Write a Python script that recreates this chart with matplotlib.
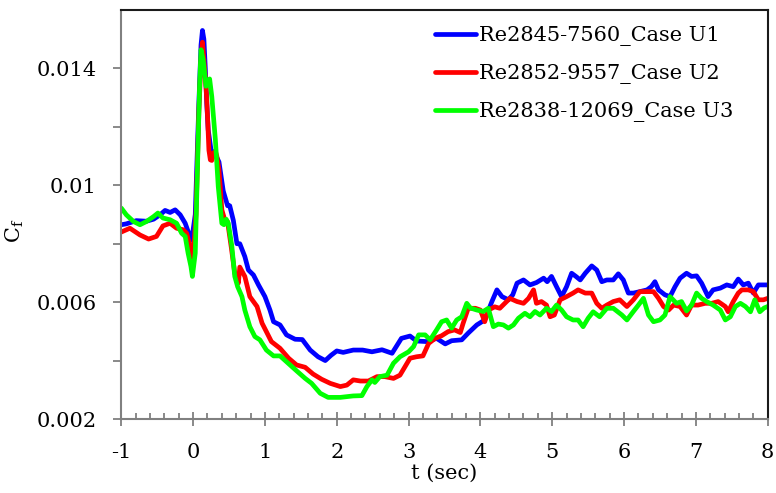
import matplotlib
matplotlib.use("Agg")
import matplotlib.pyplot as plt
from matplotlib.ticker import FixedLocator, MultipleLocator, FuncFormatter

plt.rcParams['font.family'] = ['DejaVu Serif']
plt.rcParams['mathtext.fontset'] = 'dejavuserif'

# Skin-friction coefficient histories (t in seconds)
t_u1 = [-1.0, -0.93, -0.79, -0.65, -0.55, -0.46, -0.39, -0.32, -0.25, -0.18, -0.11, -0.07,
        -0.02, 0.03, 0.08, 0.11, 0.13, 0.15, 0.17, 0.19, 0.21, 0.25, 0.30, 0.36, 0.42, 0.48,
        0.51, 0.56, 0.61, 0.65, 0.72, 0.77, 0.84, 0.91, 1.00, 1.07, 1.12, 1.21, 1.30, 1.42,
        1.52, 1.63, 1.74, 1.84, 1.92, 2.00, 2.09, 2.23, 2.36, 2.49, 2.63, 2.77, 2.90, 3.02,
        3.11, 3.25, 3.39, 3.51, 3.60, 3.74, 3.83, 3.95, 4.06, 4.16, 4.23, 4.30, 4.39, 4.45,
        4.51, 4.60, 4.69, 4.78, 4.88, 4.93, 4.99, 5.06, 5.13, 5.20, 5.27, 5.33, 5.39, 5.46,
        5.55, 5.62, 5.69, 5.76, 5.85, 5.92, 5.99, 6.06, 6.13, 6.22, 6.32, 6.38, 6.43, 6.48,
        6.57, 6.64, 6.71, 6.78, 6.87, 6.94, 7.01, 7.08, 7.17, 7.24, 7.34, 7.43, 7.52, 7.59,
        7.66, 7.73, 7.80, 7.87, 7.93, 8.0]
cf_u1 = [0.00865, 0.00868, 0.00879, 0.00877, 0.00884, 0.00899, 0.00914, 0.00907, 0.00916,
         0.00899, 0.00870, 0.00842, 0.00812, 0.00900, 0.01280, 0.01480, 0.01530, 0.01500,
         0.01400, 0.01280, 0.01190, 0.01120, 0.01110, 0.01080, 0.00980, 0.00930, 0.00930,
         0.00880, 0.00800, 0.00800, 0.00756, 0.00710, 0.00693, 0.00659, 0.00619, 0.00573,
         0.00533, 0.00522, 0.00488, 0.00473, 0.00472, 0.00436, 0.00413, 0.00400, 0.00418,
         0.00433, 0.00428, 0.00436, 0.00436, 0.00430, 0.00437, 0.00425, 0.00476, 0.00484,
         0.00467, 0.00465, 0.00476, 0.00457, 0.00468, 0.00471, 0.00494, 0.00522, 0.00539,
         0.00602, 0.00642, 0.00619, 0.00608, 0.00625, 0.00665, 0.00676, 0.00659, 0.00667,
         0.00682, 0.00670, 0.00688, 0.00653, 0.00619, 0.00653, 0.00699, 0.00688, 0.00676,
         0.00699, 0.00724, 0.00710, 0.00670, 0.00676, 0.00676, 0.00697, 0.00676, 0.00631,
         0.00631, 0.00636, 0.00642, 0.00653, 0.00670, 0.00642, 0.00625, 0.00619, 0.00653,
         0.00682, 0.00699, 0.00688, 0.00690, 0.00665, 0.00619, 0.00642, 0.00648, 0.00659,
         0.00653, 0.00679, 0.00659, 0.00665, 0.00631, 0.00659, 0.00659, 0.00659]

t_u2 = [-1.0, -0.88, -0.74, -0.62, -0.51, -0.42, -0.32, -0.23, -0.14, -0.09, -0.04, 0.00,
        0.04, 0.08, 0.11, 0.13, 0.16, 0.18, 0.20, 0.22, 0.24, 0.26, 0.28, 0.31, 0.33, 0.36,
        0.40, 0.44, 0.48, 0.53, 0.58, 0.63, 0.65, 0.72, 0.79, 0.89, 0.96, 1.02, 1.09, 1.21,
        1.33, 1.44, 1.56, 1.67, 1.79, 1.91, 2.05, 2.14, 2.23, 2.33, 2.44, 2.56, 2.67, 2.79,
        2.88, 2.95, 3.02, 3.11, 3.20, 3.28, 3.37, 3.46, 3.55, 3.64, 3.72, 3.76, 3.83, 3.93,
        4.00, 4.06, 4.11, 4.20, 4.27, 4.34, 4.41, 4.51, 4.60, 4.67, 4.74, 4.78, 4.85, 4.92,
        4.97, 5.03, 5.11, 5.20, 5.29, 5.36, 5.46, 5.55, 5.62, 5.69, 5.76, 5.85, 5.94, 6.04,
        6.13, 6.22, 6.32, 6.41, 6.48, 6.55, 6.62, 6.69, 6.78, 6.87, 6.94, 7.03, 7.13, 7.22,
        7.31, 7.41, 7.45, 7.52, 7.59, 7.64, 7.73, 7.80, 7.87, 7.94, 8.0]
cf_u2 = [0.00840, 0.00853, 0.00830, 0.00816, 0.00825, 0.00861, 0.00870, 0.00853, 0.00848,
         0.00836, 0.00790, 0.00750, 0.00900, 0.01250, 0.01430, 0.01490, 0.01400, 0.01339,
         0.01240, 0.01120, 0.01087, 0.01085, 0.01110, 0.01116, 0.01100, 0.01053, 0.00916,
         0.00882, 0.00875, 0.00790, 0.00699, 0.00665, 0.00720, 0.00688, 0.00619, 0.00585,
         0.00528, 0.00499, 0.00465, 0.00442, 0.00408, 0.00385, 0.00377, 0.00354, 0.00336,
         0.00322, 0.00311, 0.00316, 0.00334, 0.00330, 0.00330, 0.00345, 0.00345, 0.00339,
         0.00350, 0.00379, 0.00408, 0.00413, 0.00416, 0.00459, 0.00476, 0.00485, 0.00499,
         0.00505, 0.00496, 0.00528, 0.00579, 0.00579, 0.00573, 0.00533, 0.00573, 0.00584,
         0.00579, 0.00596, 0.00613, 0.00602, 0.00596, 0.00613, 0.00642, 0.00596, 0.00602,
         0.00590, 0.00550, 0.00556, 0.00608, 0.00619, 0.00631, 0.00642, 0.00631, 0.00631,
         0.00596, 0.00579, 0.00590, 0.00602, 0.00608, 0.00585, 0.00608, 0.00636, 0.00636,
         0.00636, 0.00613, 0.00585, 0.00573, 0.00590, 0.00585, 0.00556, 0.00590, 0.00590,
         0.00596, 0.00596, 0.00602, 0.00585, 0.00567, 0.00602, 0.00631, 0.00642, 0.00642,
         0.00636, 0.00608, 0.00608, 0.00613]

t_u3 = [-1.0, -0.93, -0.83, -0.74, -0.65, -0.55, -0.49, -0.42, -0.32, -0.23, -0.16, -0.11,
        -0.07, -0.03, -0.01, 0.03, 0.06, 0.09, 0.11, 0.14, 0.18, 0.23, 0.26, 0.31, 0.35,
        0.40, 0.43, 0.46, 0.49, 0.54, 0.58, 0.62, 0.68, 0.72, 0.79, 0.86, 0.93, 1.02, 1.12,
        1.21, 1.30, 1.44, 1.56, 1.65, 1.77, 1.88, 2.05, 2.23, 2.35, 2.42, 2.49, 2.53, 2.60,
        2.70, 2.79, 2.88, 3.00, 3.07, 3.14, 3.23, 3.30, 3.39, 3.46, 3.53, 3.60, 3.67, 3.74,
        3.81, 3.86, 3.95, 4.04, 4.11, 4.18, 4.25, 4.32, 4.39, 4.46, 4.53, 4.62, 4.69, 4.76,
        4.83, 4.92, 4.99, 5.06, 5.13, 5.20, 5.29, 5.36, 5.43, 5.50, 5.57, 5.66, 5.76, 5.85,
        5.97, 6.04, 6.13, 6.20, 6.27, 6.34, 6.41, 6.50, 6.57, 6.64, 6.73, 6.80, 6.87, 6.94,
        7.01, 7.08, 7.15, 7.24, 7.34, 7.41, 7.48, 7.55, 7.62, 7.69, 7.76, 7.82, 7.89, 7.95,
        8.0]
cf_u3 = [0.00922, 0.00899, 0.00876, 0.00865, 0.00876, 0.00893, 0.00905, 0.00888, 0.00882,
         0.00870, 0.00836, 0.00825, 0.00768, 0.00722, 0.00688, 0.00768, 0.01053, 0.01339,
         0.01464, 0.01430, 0.01339, 0.01364, 0.01304, 0.01156, 0.00996, 0.00870, 0.00865,
         0.00884, 0.00870, 0.00790, 0.00688, 0.00653, 0.00619, 0.00573, 0.00516, 0.00482,
         0.00471, 0.00436, 0.00416, 0.00416, 0.00396, 0.00365, 0.00339, 0.00322, 0.00288,
         0.00274, 0.00274, 0.00279, 0.00280, 0.00311, 0.00334, 0.00325, 0.00345, 0.00350,
         0.00391, 0.00413, 0.00430, 0.00448, 0.00488, 0.00488, 0.00471, 0.00505, 0.00533,
         0.00539, 0.00511, 0.00539, 0.00550, 0.00596, 0.00580, 0.00573, 0.00568, 0.00579,
         0.00516, 0.00525, 0.00522, 0.00511, 0.00522, 0.00545, 0.00562, 0.00550, 0.00568,
         0.00556, 0.00579, 0.00568, 0.00590, 0.00573, 0.00550, 0.00539, 0.00539, 0.00516,
         0.00545, 0.00567, 0.00550, 0.00579, 0.00579, 0.00556, 0.00539, 0.00568, 0.00590,
         0.00613, 0.00556, 0.00533, 0.00539, 0.00556, 0.00619, 0.00596, 0.00602, 0.00570,
         0.00590, 0.00631, 0.00613, 0.00602, 0.00590, 0.00573, 0.00539, 0.00550, 0.00585,
         0.00596, 0.00585, 0.00567, 0.00608, 0.00567, 0.00580, 0.00585]

labels = ['Re2845-7560_Case U1', 'Re2852-9557_Case U2', 'Re2838-12069_Case U3']
colors = ['#0000FF', '#FF0000', '#00FF00']

x_ticks = [-1, 0, 1, 2, 3, 4, 5, 6, 7, 8]
y_ticks = [0.002, 0.004, 0.006, 0.008, 0.010, 0.012, 0.014, 0.016]
y_labeled = {0.002: '0.002', 0.006: '0.006', 0.010: '0.01', 0.014: '0.014'}

fig = plt.figure(figsize=(7.76, 4.93), dpi=100)
ax = fig.add_axes([0.1563, 0.1501, 0.8330, 0.8296])

for t, cf, lab, col in zip([t_u1, t_u2, t_u3], [cf_u1, cf_u2, cf_u3], labels, colors):
    ax.plot(t, cf, color=col, lw=3.4, label=lab, solid_capstyle='round',
            solid_joinstyle='round')

ax.set_xlim(-1, 8)
ax.set_ylim(0.002, 0.016)

ax.xaxis.set_major_locator(FixedLocator(x_ticks))
ax.xaxis.set_minor_locator(MultipleLocator(0.2))
ax.yaxis.set_major_locator(FixedLocator(y_ticks[:-1]))


def ylab(v, pos):
    for key, txt in y_labeled.items():
        if abs(v - key) < 1e-9:
            return txt
    return ''


ax.yaxis.set_major_formatter(FuncFormatter(ylab))
ax.xaxis.set_major_formatter(FuncFormatter(lambda v, p: '%d' % round(v)))

gray = '#808080'
for side in ['left', 'bottom']:
    ax.spines[side].set_color(gray)
    ax.spines[side].set_linewidth(1.5)
for side in ['top', 'right']:
    ax.spines[side].set_color('#1a1a1a')
    ax.spines[side].set_linewidth(1.5)

ax.tick_params(axis='x', which='major', direction='inout', length=10, width=1.3,
               color=gray, labelsize=15, pad=12.5, labelcolor='black')
ax.tick_params(axis='x', which='minor', direction='in', length=4.2, width=1.3, color=gray)
ax.tick_params(axis='y', which='major', direction='out', length=6, width=1.3,
               color=gray, labelsize=15, pad=12, labelcolor='black')
ax.tick_params(top=False, right=False)

ax.set_xlabel('t (sec)', fontsize=15, labelpad=1)
ax.set_ylabel(r'C$_\mathrm{f}$', fontsize=15)
ax.yaxis.set_label_coords(-0.147, 0.46)

leg = ax.legend(loc='upper right', bbox_to_anchor=(0.968, 0.993), frameon=False,
                fontsize=15, handlelength=1.95, handletextpad=0.15, labelspacing=0.85,
                borderaxespad=0.25)

fig.savefig('out.png', dpi=100)
